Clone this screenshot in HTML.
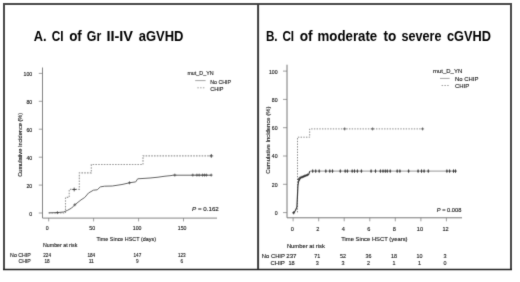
<!DOCTYPE html>
<html><head><meta charset="utf-8"><style>
html,body{margin:0;padding:0;background:#fff;}
svg{display:block;font-family:"Liberation Sans", sans-serif;}
text{stroke:#151515;stroke-width:0.12px;}
text.t{stroke:none;}
</style></head><body>
<svg width="520" height="282" viewBox="0 0 520 282">
<defs><filter id="b" color-interpolation-filters="sRGB" x="0" y="0" width="520" height="282" filterUnits="userSpaceOnUse"><feConvolveMatrix order="3" kernelMatrix="0.0113 0.0838 0.0113 0.0838 0.6193 0.0838 0.0113 0.0838 0.0113" edgeMode="duplicate" preserveAlpha="true"/></filter></defs>
<g filter="url(#b)">
<rect width="520" height="282" fill="#fff"/>
<path d="M3 4H512M4 3V270M511 3V270" fill="none" stroke="#4a4a4a" stroke-width="2"/>
<path d="M3 269.5H512" fill="none" stroke="#222" stroke-width="1.3"/>
<line x1="258.1" y1="4" x2="258.1" y2="269" stroke="#3c3c3c" stroke-width="2"/>
<text x="33.86" y="40.9" font-size="14.6" text-anchor="start" fill="#000" textLength="12.8" lengthAdjust="spacingAndGlyphs" font-weight="bold" class="t">A.</text>
<text x="51.8" y="40.9" font-size="14.6" text-anchor="start" fill="#000" textLength="11.79" lengthAdjust="spacingAndGlyphs" font-weight="bold" class="t">CI</text>
<text x="69.14" y="40.9" font-size="14.6" text-anchor="start" fill="#000" textLength="12.69" lengthAdjust="spacingAndGlyphs" font-weight="bold" class="t">of</text>
<text x="86.78" y="40.9" font-size="14.6" text-anchor="start" fill="#000" textLength="14.46" lengthAdjust="spacingAndGlyphs" font-weight="bold" class="t">Gr</text>
<text x="106.4" y="40.9" font-size="14.6" text-anchor="start" fill="#000" textLength="26.66" lengthAdjust="spacingAndGlyphs" font-weight="bold" class="t">II-IV</text>
<text x="138.66" y="40.9" font-size="14.6" text-anchor="start" fill="#000" textLength="44.72" lengthAdjust="spacingAndGlyphs" font-weight="bold" class="t">aGVHD</text>
<text x="265.9" y="41.0" font-size="14.6" text-anchor="start" fill="#000" textLength="11.68" lengthAdjust="spacingAndGlyphs" font-weight="bold" class="t">B.</text>
<text x="282.4" y="41.0" font-size="14.6" text-anchor="start" fill="#000" textLength="11.67" lengthAdjust="spacingAndGlyphs" font-weight="bold" class="t">CI</text>
<text x="299.63" y="41.0" font-size="14.6" text-anchor="start" fill="#000" textLength="12.9" lengthAdjust="spacingAndGlyphs" font-weight="bold" class="t">of</text>
<text x="317.59" y="41.0" font-size="14.6" text-anchor="start" fill="#000" textLength="59.62" lengthAdjust="spacingAndGlyphs" font-weight="bold" class="t">moderate</text>
<text x="383.57" y="41.0" font-size="14.6" text-anchor="start" fill="#000" textLength="12.83" lengthAdjust="spacingAndGlyphs" font-weight="bold" class="t">to</text>
<text x="401.57" y="41.0" font-size="14.6" text-anchor="start" fill="#000" textLength="39.88" lengthAdjust="spacingAndGlyphs" font-weight="bold" class="t">severe</text>
<text x="446.96" y="41.0" font-size="14.6" text-anchor="start" fill="#000" textLength="44.0" lengthAdjust="spacingAndGlyphs" font-weight="bold" class="t">cGVHD</text>
<path d="M42.5 67.5V218.1H217" fill="none" stroke="#777" stroke-width="0.9"/>
<line x1="38.8" y1="213.0" x2="42.5" y2="213.0" stroke="#777" stroke-width="0.7"/>
<text x="32.2" y="216.0" font-size="5.2" text-anchor="end" fill="#1a1a1a" >0</text>
<line x1="38.8" y1="185.1" x2="42.5" y2="185.1" stroke="#777" stroke-width="0.7"/>
<text x="32.2" y="188.07999999999998" font-size="5.2" text-anchor="end" fill="#1a1a1a" >20</text>
<line x1="38.8" y1="157.2" x2="42.5" y2="157.2" stroke="#777" stroke-width="0.7"/>
<text x="32.2" y="160.16" font-size="5.2" text-anchor="end" fill="#1a1a1a" >40</text>
<line x1="38.8" y1="129.2" x2="42.5" y2="129.2" stroke="#777" stroke-width="0.7"/>
<text x="32.2" y="132.24" font-size="5.2" text-anchor="end" fill="#1a1a1a" >60</text>
<line x1="38.8" y1="101.3" x2="42.5" y2="101.3" stroke="#777" stroke-width="0.7"/>
<text x="32.2" y="104.32" font-size="5.2" text-anchor="end" fill="#1a1a1a" >80</text>
<line x1="38.8" y1="73.4" x2="42.5" y2="73.4" stroke="#777" stroke-width="0.7"/>
<text x="32.2" y="76.4" font-size="5.2" text-anchor="end" fill="#1a1a1a" >100</text>
<line x1="48.7" y1="218.1" x2="48.7" y2="221.4" stroke="#777" stroke-width="0.7"/>
<text x="47.300000000000004" y="230.2" font-size="5.2" text-anchor="middle" fill="#1a1a1a" >0</text>
<line x1="93.6" y1="218.1" x2="93.6" y2="221.4" stroke="#777" stroke-width="0.7"/>
<text x="92.235" y="230.2" font-size="5.2" text-anchor="middle" fill="#1a1a1a" >50</text>
<line x1="138.6" y1="218.1" x2="138.6" y2="221.4" stroke="#777" stroke-width="0.7"/>
<text x="137.17" y="230.2" font-size="5.2" text-anchor="middle" fill="#1a1a1a" >100</text>
<line x1="183.5" y1="218.1" x2="183.5" y2="221.4" stroke="#777" stroke-width="0.7"/>
<text x="182.105" y="230.2" font-size="5.2" text-anchor="middle" fill="#1a1a1a" >150</text>
<text x="96.5" y="240.9" font-size="5.6" text-anchor="start" fill="#1a1a1a" textLength="59.5" lengthAdjust="spacingAndGlyphs" >Time Since HSCT (days)</text>
<text transform="translate(21.7,176.8) rotate(-90)" font-size="5.4" fill="#1a1a1a" textLength="64" lengthAdjust="spacingAndGlyphs">Cumulative Incidence (%)</text>
<text x="187.4" y="74.7" font-size="5.5" text-anchor="start" fill="#1a1a1a" textLength="26.2" lengthAdjust="spacingAndGlyphs" >mut_D_YN</text>
<line x1="195.2" y1="80.6" x2="205.6" y2="80.6" stroke="#666" stroke-width="0.6"/>
<text x="210.2" y="83.7" font-size="5.8" text-anchor="start" fill="#1a1a1a" textLength="20.8" lengthAdjust="spacingAndGlyphs" >No CHIP</text>
<line x1="197.3" y1="87.8" x2="205.6" y2="87.8" stroke="#777" stroke-width="0.7" stroke-dasharray="1.5 1.3"/>
<text x="210.3" y="90.5" font-size="5.8" text-anchor="start" fill="#1a1a1a" textLength="13.2" lengthAdjust="spacingAndGlyphs" >CHIP</text>
<text x="192.1" y="211.1" font-size="5.6" fill="#1a1a1a" textLength="26.7" lengthAdjust="spacingAndGlyphs"><tspan font-style="italic">P</tspan> = 0.162</text>
<text x="43.0" y="246.8" font-size="5.2" text-anchor="start" fill="#1a1a1a" textLength="34.3" lengthAdjust="spacingAndGlyphs" >Number at risk</text>
<text x="30.8" y="256.8" font-size="5.2" text-anchor="end" fill="#1a1a1a" textLength="20.7" lengthAdjust="spacingAndGlyphs" >No CHIP</text>
<text x="30.8" y="263.0" font-size="5.2" text-anchor="end" fill="#1a1a1a" textLength="12.3" lengthAdjust="spacingAndGlyphs" >CHIP</text>
<text x="47.1" y="256.8" font-size="5.2" text-anchor="middle" fill="#1a1a1a" textLength="7.800000000000001" lengthAdjust="spacingAndGlyphs" >224</text>
<text x="47.1" y="263.0" font-size="5.2" text-anchor="middle" fill="#1a1a1a" textLength="5.2" lengthAdjust="spacingAndGlyphs" >18</text>
<text x="91.3" y="256.8" font-size="5.2" text-anchor="middle" fill="#1a1a1a" textLength="7.800000000000001" lengthAdjust="spacingAndGlyphs" >184</text>
<text x="91.3" y="263.0" font-size="5.2" text-anchor="middle" fill="#1a1a1a" textLength="5.2" lengthAdjust="spacingAndGlyphs" >11</text>
<text x="137.4" y="256.8" font-size="5.2" text-anchor="middle" fill="#1a1a1a" textLength="7.800000000000001" lengthAdjust="spacingAndGlyphs" >147</text>
<text x="137.4" y="263.0" font-size="5.2" text-anchor="middle" fill="#1a1a1a" textLength="2.6" lengthAdjust="spacingAndGlyphs" >9</text>
<text x="181.8" y="256.8" font-size="5.2" text-anchor="middle" fill="#1a1a1a" textLength="7.800000000000001" lengthAdjust="spacingAndGlyphs" >123</text>
<text x="181.8" y="263.0" font-size="5.2" text-anchor="middle" fill="#1a1a1a" textLength="2.6" lengthAdjust="spacingAndGlyphs" >6</text>
<polyline points="48.7,213.0 65.5,213.0 65.5,197.4 69.2,197.4 69.2,189.4 79.3,189.4 79.3,172.9 91.3,172.9 91.3,164.5 143.0,164.5 143.0,155.9 211.5,155.9" fill="none" stroke="#999" stroke-width="1.1" stroke-dasharray="1.6 1.2"/>
<path d="M72.3 189.5H76.1M74.2 187.6V191.4" stroke="#333" stroke-width="0.8"/>
<path d="M209.4 155.9H213.2M211.3 154.0V157.8" stroke="#333" stroke-width="0.8"/>
<polyline points="48.7,212.8 57.4,212.6 63.6,212.0 67.4,210.4 71.7,208.0 74.8,204.8 81.0,199.9 84.8,197.4 88.5,193.0 93.4,190.2 97.2,189.8 100.3,186.9 104.6,186.2 112.3,186.0 122.0,184.5 129.9,182.7 135.7,181.9 137.7,178.8 150.0,178.0 158.0,177.2 165.0,176.2 171.0,175.6 173.0,175.2 211.5,175.2" fill="none" stroke="#666" stroke-width="1.0"/>
<path d="M55.9 212.6H58.9M57.4 211.1V214.1" stroke="#444" stroke-width="0.7"/>
<path d="M73.3 204.8H76.3M74.8 203.3V206.3" stroke="#444" stroke-width="0.7"/>
<path d="M128.0 182.8H131.0M129.5 181.3V184.3" stroke="#444" stroke-width="0.7"/>
<path d="M173.3 175.1H176.3M174.8 173.6V176.6" stroke="#444" stroke-width="0.7"/>
<path d="M191.3 175.1H194.3M192.8 173.6V176.6" stroke="#444" stroke-width="0.7"/>
<path d="M195.4 175.1H198.4M196.9 173.6V176.6" stroke="#444" stroke-width="0.7"/>
<path d="M197.7 175.1H200.7M199.2 173.6V176.6" stroke="#444" stroke-width="0.7"/>
<path d="M201.0 175.1H204.0M202.5 173.6V176.6" stroke="#444" stroke-width="0.7"/>
<path d="M203.0 175.1H206.0M204.5 173.6V176.6" stroke="#444" stroke-width="0.7"/>
<path d="M204.9 175.1H207.9M206.4 173.6V176.6" stroke="#444" stroke-width="0.7"/>
<path d="M209.7 175.1H212.7M211.2 173.6V176.6" stroke="#444" stroke-width="0.7"/>
<path d="M287.0 64.7V217.8H462" fill="none" stroke="#777" stroke-width="1.0"/>
<line x1="283.0" y1="212.6" x2="287.0" y2="212.6" stroke="#777" stroke-width="0.7"/>
<text x="277.6" y="215.0" font-size="5.2" text-anchor="end" fill="#1a1a1a" >0</text>
<line x1="283.0" y1="184.3" x2="287.0" y2="184.3" stroke="#777" stroke-width="0.7"/>
<text x="277.6" y="186.7" font-size="5.2" text-anchor="end" fill="#1a1a1a" >20</text>
<line x1="283.0" y1="156.0" x2="287.0" y2="156.0" stroke="#777" stroke-width="0.7"/>
<text x="277.6" y="158.4" font-size="5.2" text-anchor="end" fill="#1a1a1a" >40</text>
<line x1="283.0" y1="127.7" x2="287.0" y2="127.7" stroke="#777" stroke-width="0.7"/>
<text x="277.6" y="130.1" font-size="5.2" text-anchor="end" fill="#1a1a1a" >60</text>
<line x1="283.0" y1="99.4" x2="287.0" y2="99.4" stroke="#777" stroke-width="0.7"/>
<text x="277.6" y="101.8" font-size="5.2" text-anchor="end" fill="#1a1a1a" >80</text>
<line x1="283.0" y1="71.1" x2="287.0" y2="71.1" stroke="#777" stroke-width="0.7"/>
<text x="277.6" y="73.5" font-size="5.2" text-anchor="end" fill="#1a1a1a" >100</text>
<line x1="293.1" y1="217.8" x2="293.1" y2="221.3" stroke="#777" stroke-width="0.7"/>
<text x="292.20000000000005" y="231.3" font-size="5.6" text-anchor="middle" fill="#1a1a1a" >0</text>
<line x1="318.7" y1="217.8" x2="318.7" y2="221.3" stroke="#777" stroke-width="0.7"/>
<text x="317.75000000000006" y="231.3" font-size="5.6" text-anchor="middle" fill="#1a1a1a" >2</text>
<line x1="344.2" y1="217.8" x2="344.2" y2="221.3" stroke="#777" stroke-width="0.7"/>
<text x="343.30000000000007" y="231.3" font-size="5.6" text-anchor="middle" fill="#1a1a1a" >4</text>
<line x1="369.8" y1="217.8" x2="369.8" y2="221.3" stroke="#777" stroke-width="0.7"/>
<text x="368.85" y="231.3" font-size="5.6" text-anchor="middle" fill="#1a1a1a" >6</text>
<line x1="395.3" y1="217.8" x2="395.3" y2="221.3" stroke="#777" stroke-width="0.7"/>
<text x="394.40000000000003" y="231.3" font-size="5.6" text-anchor="middle" fill="#1a1a1a" >8</text>
<line x1="420.9" y1="217.8" x2="420.9" y2="221.3" stroke="#777" stroke-width="0.7"/>
<text x="419.95000000000005" y="231.3" font-size="5.6" text-anchor="middle" fill="#1a1a1a" >10</text>
<line x1="446.4" y1="217.8" x2="446.4" y2="221.3" stroke="#777" stroke-width="0.7"/>
<text x="445.50000000000006" y="231.3" font-size="5.6" text-anchor="middle" fill="#1a1a1a" >12</text>
<text x="341.2" y="241.0" font-size="5.6" text-anchor="start" fill="#1a1a1a" textLength="66.4" lengthAdjust="spacingAndGlyphs" >Time Since HSCT (years)</text>
<text transform="translate(270.3,173.7) rotate(-90)" font-size="5.7" fill="#1a1a1a" textLength="67.1" lengthAdjust="spacingAndGlyphs">Cumulative Incidence (%)</text>
<text x="433.0" y="72.9" font-size="5.5" text-anchor="start" fill="#1a1a1a" textLength="29.2" lengthAdjust="spacingAndGlyphs" >mut_D_YN</text>
<line x1="440" y1="78.4" x2="449.6" y2="78.4" stroke="#666" stroke-width="0.6"/>
<text x="455" y="81.0" font-size="5.8" text-anchor="start" fill="#1a1a1a" textLength="23.5" lengthAdjust="spacingAndGlyphs" >No CHIP</text>
<line x1="441.6" y1="85.5" x2="449.6" y2="85.5" stroke="#777" stroke-width="0.7" stroke-dasharray="1.5 1.3"/>
<text x="455" y="88.1" font-size="5.8" text-anchor="start" fill="#1a1a1a" textLength="14.2" lengthAdjust="spacingAndGlyphs" >CHIP</text>
<text x="436.8" y="212.1" font-size="5.6" fill="#1a1a1a" textLength="24.6" lengthAdjust="spacingAndGlyphs"><tspan font-style="italic">P</tspan> = 0.008</text>
<text x="286.9" y="247.8" font-size="5.4" text-anchor="start" fill="#1a1a1a" textLength="38.0" lengthAdjust="spacingAndGlyphs" >Number at risk</text>
<text x="261.8" y="258.3" font-size="5.4" text-anchor="start" fill="#1a1a1a" textLength="23.1" lengthAdjust="spacingAndGlyphs" >No CHIP</text>
<text x="284.9" y="264.9" font-size="5.4" text-anchor="end" fill="#1a1a1a" textLength="14.5" lengthAdjust="spacingAndGlyphs" >CHIP</text>
<text x="286.3" y="258.3" font-size="5.4" text-anchor="start" fill="#1a1a1a" textLength="10.2" lengthAdjust="spacingAndGlyphs" >237</text>
<text x="288.5" y="264.9" font-size="5.4" text-anchor="start" fill="#1a1a1a" textLength="6.2" lengthAdjust="spacingAndGlyphs" >18</text>
<text x="317.35" y="258.3" font-size="5.4" text-anchor="middle" fill="#1a1a1a" >71</text>
<text x="317.35" y="264.9" font-size="5.4" text-anchor="middle" fill="#1a1a1a" >3</text>
<text x="342.90000000000003" y="258.3" font-size="5.4" text-anchor="middle" fill="#1a1a1a" >52</text>
<text x="342.90000000000003" y="264.9" font-size="5.4" text-anchor="middle" fill="#1a1a1a" >3</text>
<text x="368.45" y="258.3" font-size="5.4" text-anchor="middle" fill="#1a1a1a" >36</text>
<text x="368.45" y="264.9" font-size="5.4" text-anchor="middle" fill="#1a1a1a" >2</text>
<text x="394.0" y="258.3" font-size="5.4" text-anchor="middle" fill="#1a1a1a" >18</text>
<text x="394.0" y="264.9" font-size="5.4" text-anchor="middle" fill="#1a1a1a" >1</text>
<text x="419.55" y="258.3" font-size="5.4" text-anchor="middle" fill="#1a1a1a" >10</text>
<text x="419.55" y="264.9" font-size="5.4" text-anchor="middle" fill="#1a1a1a" >1</text>
<text x="445.1" y="258.3" font-size="5.4" text-anchor="middle" fill="#1a1a1a" >3</text>
<text x="445.1" y="264.9" font-size="5.4" text-anchor="middle" fill="#1a1a1a" >0</text>
<polyline points="297.5,212.4 297.5,137.2 309.7,137.2 309.7,128.9 423.0,128.9" fill="none" stroke="#8a8a8a" stroke-width="1.0" stroke-dasharray="1.4 1.3"/>
<path d="M343.2 128.9H346.2M344.7 127.4V130.4" stroke="#555" stroke-width="0.8"/>
<path d="M371.1 128.9H374.1M372.6 127.4V130.4" stroke="#555" stroke-width="0.8"/>
<path d="M421.1 128.9H424.1M422.6 127.4V130.4" stroke="#555" stroke-width="0.8"/>
<polyline points="293.6,213.0 295.4,210.5 296.9,207.2 297.5,195.0 297.9,186.0 298.5,181.8 300.4,178.0 303.0,176.8 306.0,175.6 308.6,174.6 309.9,171.1" fill="none" stroke="#3a3a3a" stroke-width="1.2"/>
<polyline points="309.9,171.1 456.8,171.1" fill="none" stroke="#8a8a8a" stroke-width="0.9"/>
<path d="M292.1 212.8H295.1M293.6 211.3V214.3" stroke="#333" stroke-width="0.9"/>
<path d="M297.1 179.5H299.9M298.5 178.1V180.9" stroke="#333" stroke-width="0.6"/>
<path d="M298.2 178.2H301.0M299.6 176.8V179.6" stroke="#333" stroke-width="0.6"/>
<path d="M299.6 177.3H302.4M301.0 175.9V178.7" stroke="#333" stroke-width="0.6"/>
<path d="M300.8 177.0H303.6M302.2 175.6V178.4" stroke="#333" stroke-width="0.6"/>
<path d="M302.0 176.5H304.8M303.4 175.1V177.9" stroke="#333" stroke-width="0.6"/>
<path d="M303.2 176.0H306.0M304.6 174.6V177.4" stroke="#333" stroke-width="0.6"/>
<path d="M304.6 175.4H307.4M306.0 174.0V176.8" stroke="#333" stroke-width="0.6"/>
<path d="M306.1 174.8H308.9M307.5 173.4V176.2" stroke="#333" stroke-width="0.6"/>
<path d="M311.7 171.1H313.7M312.7 169.4V172.8" stroke="#333" stroke-width="0.9"/>
<path d="M314.7 171.1H316.7M315.7 169.4V172.8" stroke="#333" stroke-width="0.9"/>
<path d="M318.2 171.1H320.2M319.2 169.4V172.8" stroke="#333" stroke-width="0.9"/>
<path d="M324.8 171.1H326.8M325.8 169.4V172.8" stroke="#333" stroke-width="0.9"/>
<path d="M328.8 171.1H330.8M329.8 169.4V172.8" stroke="#333" stroke-width="0.9"/>
<path d="M331.5 171.1H333.5M332.5 169.4V172.8" stroke="#333" stroke-width="0.9"/>
<path d="M339.3 171.1H341.3M340.3 169.4V172.8" stroke="#333" stroke-width="0.9"/>
<path d="M344.2 171.1H346.2M345.2 169.4V172.8" stroke="#333" stroke-width="0.9"/>
<path d="M346.4 171.1H348.4M347.4 169.4V172.8" stroke="#333" stroke-width="0.9"/>
<path d="M351.2 171.1H353.2M352.2 169.4V172.8" stroke="#333" stroke-width="0.9"/>
<path d="M353.5 171.1H355.5M354.5 169.4V172.8" stroke="#333" stroke-width="0.9"/>
<path d="M356.4 171.1H358.4M357.4 169.4V172.8" stroke="#333" stroke-width="0.9"/>
<path d="M360.4 171.1H362.4M361.4 169.4V172.8" stroke="#333" stroke-width="0.9"/>
<path d="M370.1 171.1H372.1M371.1 169.4V172.8" stroke="#333" stroke-width="0.9"/>
<path d="M374.5 171.1H376.5M375.5 169.4V172.8" stroke="#333" stroke-width="0.9"/>
<path d="M379.4 171.1H381.4M380.4 169.4V172.8" stroke="#333" stroke-width="0.9"/>
<path d="M382.0 171.1H384.0M383.0 169.4V172.8" stroke="#333" stroke-width="0.9"/>
<path d="M384.3 171.1H386.3M385.3 169.4V172.8" stroke="#333" stroke-width="0.9"/>
<path d="M386.3 171.1H388.3M387.3 169.4V172.8" stroke="#333" stroke-width="0.9"/>
<path d="M389.2 171.1H391.2M390.2 169.4V172.8" stroke="#333" stroke-width="0.9"/>
<path d="M396.2 171.1H398.2M397.2 169.4V172.8" stroke="#333" stroke-width="0.9"/>
<path d="M398.9 171.1H400.9M399.9 169.4V172.8" stroke="#333" stroke-width="0.9"/>
<path d="M407.6 171.1H409.6M408.6 169.4V172.8" stroke="#333" stroke-width="0.9"/>
<path d="M417.1 171.1H419.1M418.1 169.4V172.8" stroke="#333" stroke-width="0.9"/>
<path d="M420.5 171.1H422.5M421.5 169.4V172.8" stroke="#333" stroke-width="0.9"/>
<path d="M423.1 171.1H425.1M424.1 169.4V172.8" stroke="#333" stroke-width="0.9"/>
<path d="M427.3 171.1H429.3M428.3 169.4V172.8" stroke="#333" stroke-width="0.9"/>
<path d="M445.9 171.1H447.9M446.9 169.4V172.8" stroke="#333" stroke-width="0.9"/>
<path d="M448.6 171.1H450.6M449.6 169.4V172.8" stroke="#333" stroke-width="0.9"/>
<path d="M452.5 171.1H454.5M453.5 169.4V172.8" stroke="#333" stroke-width="0.9"/>
<path d="M454.5 171.1H456.5M455.5 169.4V172.8" stroke="#333" stroke-width="0.9"/>
</g>
</svg>
</body></html>
